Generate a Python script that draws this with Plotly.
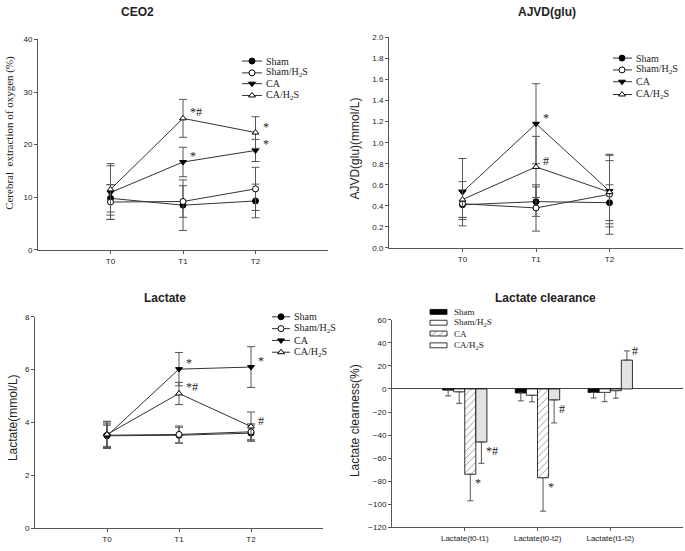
import plotly.graph_objects as go

W, H = 685, 551

# ---------------- data ----------------
time_points = ["T0", "T1", "T2"]
group_names = ["Sham", "Sham/H<sub>2</sub>S", "CA", "CA/H<sub>2</sub>S"]

# CEO2 (%)
ceo2_sham = [9.8, 8.5, 9.3]
ceo2_sham_err = [2.6, 4.8, 3.2]
ceo2_shamh2s = [9.1, 9.2, 11.6]
ceo2_shamh2s_err = [3.3, 3.0, 4.1]
ceo2_ca = [10.9, 16.7, 18.9]
ceo2_ca_err = [5.1, 2.8, 2.1]
ceo2_cah2s = [11.5, 25.0, 22.3]
ceo2_cah2s_err = [4.9, 3.6, 3.0]
ceo2_marks = [(3, 1, "*#"), (3, 2, "*"), (2, 1, "*"), (2, 2, "*")]

# AJVD(glu) (mmol/L)
ajvd_sham = [0.41, 0.44, 0.43]
ajvd_sham_err = [0.14, 0.14, 0.17]
ajvd_shamh2s = [0.42, 0.38, 0.51]
ajvd_shamh2s_err = [0.13, 0.22, 0.38]
ajvd_ca = [0.53, 1.18, 0.54]
ajvd_ca_err = [0.32, 0.38, 0.34]
ajvd_cah2s = [0.46, 0.77, 0.53]
ajvd_cah2s_err = [0.17, 0.29, 0.30]
ajvd_marks = [(2, 1, "*"), (3, 1, "#")]

# Lactate (mmol/L)
lac_sham = [3.50, 3.52, 3.60]
lac_sham_err = [0.45, 0.30, 0.30]
lac_shamh2s = [3.52, 3.55, 3.65]
lac_shamh2s_err = [0.50, 0.32, 0.30]
lac_ca = [3.50, 6.02, 6.10]
lac_ca_err = [0.40, 0.63, 0.77]
lac_cah2s = [3.55, 5.10, 3.85]
lac_cah2s_err = [0.50, 0.42, 0.55]
lac_marks = [(2, 1, "*"), (2, 2, "*"), (3, 1, "*#"), (3, 2, "#")]

# Lactate clearance (%)
clear_cats = ["Lactate(t0-t1)", "Lactate(t0-t2)", "Lactate(t1-t2)"]
clr_sham = [-1.0, -3.5, -3.0]
clr_sham_err = [5.0, 6.8, 4.9]
clr_shamh2s = [-2.5, -5.5, -3.0]
clr_shamh2s_err = [10.0, 5.7, 8.0]
clr_ca = [-74.0, -77.0, -1.5]
clr_ca_err = [23.0, 29.0, 6.5]
clr_cah2s = [-46.0, -9.5, 25.0]
clr_cah2s_err = [18.5, 20.0, 8.0]
clr_marks = [(2, 0, "*"), (3, 0, "*#"), (2, 1, "*"), (3, 1, "#"), (3, 2, "#")]

# ---------------- styles ----------------
SANS = "Liberation Sans, Arial, sans-serif"
SERIF = "Liberation Serif, Times New Roman, serif"
AX = "#555555"
TXT = "#222222"
marker_styles = [
    dict(symbol="circle", color="black"),
    dict(symbol="circle", color="white"),
    dict(symbol="triangle-down", color="black"),
    dict(symbol="triangle-up", color="white"),
]
bar_styles = [
    dict(color="black"),
    dict(color="white"),
    dict(color="white", pattern=dict(shape="/", fgcolor="black", bgcolor="white", size=5, solidity=0.15)),
    dict(color="#e2e2e2"),
]

fig = go.Figure()


def px_x(p):
    return p / W


def px_y(p):
    return 1 - p / H


def base_axis(**kw):
    d = dict(showline=True, linecolor=AX, linewidth=1, ticks="outside", ticklen=3,
             tickcolor=AX, tickwidth=1, showgrid=False, zeroline=False,
             tickfont=dict(family=SANS, size=8, color=TXT), fixedrange=True)
    d.update(kw)
    return d


def line_panel(idx, series, errs, marks, xdom, ydom, yrange, dtick, tickformat=None):
    xa = "x" if idx == 1 else f"x{idx}"
    ya = "y" if idx == 1 else f"y{idx}"
    for g, (vals, err) in enumerate(zip(series, errs)):
        st = marker_styles[g]
        fig.add_trace(go.Scatter(
            x=time_points, y=vals, mode="lines+markers", xaxis=xa, yaxis=ya,
            showlegend=False, name=group_names[g],
            line=dict(color="#333333", width=1),
            marker=dict(symbol=st["symbol"], color=st["color"], size=6,
                        line=dict(color="black", width=1)),
            error_y=dict(type="data", array=err, visible=True, color=AX,
                         thickness=1, width=4),
        ))
    for g, t, txt in marks:
        fig.add_annotation(x=time_points[t], y=series[g][t], xref=xa, yref=ya,
                           text=txt, showarrow=False, xanchor="left", yanchor="middle",
                           xshift=5, yshift=6, font=dict(family=SERIF, size=12, color=TXT))
    key = "" if idx == 1 else str(idx)
    fig.layout["xaxis" + key] = base_axis(domain=[px_x(xdom[0]), px_x(xdom[1])], anchor=ya,
                                          type="category", categoryarray=time_points,
                                          range=[-1, 3])
    yk = base_axis(domain=[px_y(ydom[1]), px_y(ydom[0])], anchor=xa, range=yrange, dtick=dtick)
    if tickformat:
        yk["tickformat"] = tickformat
    fig.layout["yaxis" + key] = yk


line_panel(1,
           [ceo2_sham, ceo2_shamh2s, ceo2_ca, ceo2_cah2s],
           [ceo2_sham_err, ceo2_shamh2s_err, ceo2_ca_err, ceo2_cah2s_err],
           ceo2_marks, (38, 328), (36, 250), [0, 40], 10)
line_panel(2,
           [ajvd_sham, ajvd_shamh2s, ajvd_ca, ajvd_cah2s],
           [ajvd_sham_err, ajvd_shamh2s_err, ajvd_ca_err, ajvd_cah2s_err],
           ajvd_marks, (389, 683), (34, 248), [0, 2], 0.2, ".1f")
line_panel(3,
           [lac_sham, lac_shamh2s, lac_ca, lac_cah2s],
           [lac_sham_err, lac_shamh2s_err, lac_ca_err, lac_cah2s_err],
           lac_marks, (35, 323), (318, 533), [0, 8], 2)

# ---------------- bar panel ----------------
BARGAP = 0.39
clr_series = [clr_sham, clr_shamh2s, clr_ca, clr_cah2s]
clr_errs = [clr_sham_err, clr_shamh2s_err, clr_ca_err, clr_cah2s_err]
for g, (vals, err) in enumerate(zip(clr_series, clr_errs)):
    plus = [e if v > 0 else 0 for v, e in zip(vals, err)]
    minus = [e if v <= 0 else 0 for v, e in zip(vals, err)]
    fig.add_trace(go.Bar(
        x=clear_cats, y=vals, xaxis="x4", yaxis="y4", showlegend=False,
        name=group_names[g],
        marker=dict(line=dict(color="black", width=0.8), **bar_styles[g]),
        error_y=dict(type="data", symmetric=False, array=plus, arrayminus=minus,
                     visible=True, color=AX, thickness=1, width=3),
    ))
bw = (1 - BARGAP) / 4
for g, c, txt in clr_marks:
    v = clr_series[g][c]
    fig.add_annotation(x=c + (g - 1.5) * bw, y=v + (8 if v > 0 else -8), xref="x4", yref="y4",
                       text=txt, showarrow=False, xanchor="left", yanchor="middle",
                       xshift=3, font=dict(family=SERIF, size=12, color=TXT))
fig.layout["xaxis4"] = base_axis(domain=[px_x(392), px_x(683)], anchor="y4", type="category",
                                 categoryarray=clear_cats, range=[-1, 3])
fig.layout["yaxis4"] = base_axis(domain=[px_y(532), px_y(321)], anchor="x4", range=[-120, 60],
                                 dtick=20, zeroline=True, zerolinecolor="#444444",
                                 zerolinewidth=1)

# ---------------- overlay axis (pixel space) for legends / titles ----------------
fig.layout["xaxis5"] = dict(domain=[0, 1], range=[0, W], visible=False, anchor="y5", fixedrange=True)
fig.layout["yaxis5"] = dict(domain=[0, 1], range=[H, 0], visible=False, anchor="x5", fixedrange=True)

line_legends = [
    dict(x0=242, x1=262, xm=252, xt=264, ys=[58, 70, 81, 93]),
    dict(x0=613, x1=632, xm=622, xt=634, ys=[55, 67, 79, 92]),
    dict(x0=272, x1=290, xm=281, xt=292, ys=[318, 330, 342, 354]),
]
for L in line_legends:
    for g in range(4):
        st = marker_styles[g]
        y = L["ys"][g]
        fig.add_trace(go.Scatter(x=[L["x0"], L["x1"]], y=[y, y], mode="lines", xaxis="x5",
                                 yaxis="y5", showlegend=False, hoverinfo="skip",
                                 line=dict(color="#333333", width=1)))
        fig.add_trace(go.Scatter(x=[L["xm"]], y=[y], mode="markers", xaxis="x5", yaxis="y5",
                                 showlegend=False, hoverinfo="skip",
                                 marker=dict(symbol=st["symbol"], color=st["color"], size=6,
                                             line=dict(color="black", width=1))))
        fig.add_annotation(x=L["xt"], y=y, xref="x5", yref="y5", text=group_names[g],
                           showarrow=False, xanchor="left", yanchor="middle",
                           font=dict(family=SERIF, size=10, color=TXT))

bar_leg_ys = [313, 324, 335, 347]
for g in range(4):
    y = bar_leg_ys[g]
    st = dict(bar_styles[g])
    if g == 3:
        st = dict(color="white")
    fig.add_trace(go.Bar(x=[430], y=[5], base=[y - 2.5], width=[17], offset=0,
                         xaxis="x5", yaxis="y5", showlegend=False, hoverinfo="skip",
                         marker=dict(line=dict(color="black", width=0.8), **st)))
    fig.add_annotation(x=452, y=y, xref="x5", yref="y5", text=group_names[g],
                       showarrow=False, xanchor="left", yanchor="middle",
                       font=dict(family=SERIF, size=9, color=TXT))

# panel titles
titles = [("CEO2", 137, 8), ("AJVD(glu)", 547, 8), ("Lactate", 165, 299),
          ("Lactate clearance", 545, 299)]
for txt, x, y in titles:
    fig.add_annotation(x=x, y=y, xref="x5", yref="y5", text="<b>" + txt + "</b>",
                       showarrow=False, xanchor="center", yanchor="middle",
                       font=dict(family=SANS, size=12, color=TXT))

# axis titles
ytitles = [("Cerebral  extraction of oxygen (%)", 10, 131, SERIF, 11),
           ("AJVD(glu)(mmol/L)", 355, 147, SANS, 12),
           ("Lactate(mmol/L)", 13, 421, SANS, 12),
           ("Lactate clearness(%)", 355, 424, SANS, 12)]
for txt, x, y, fam, sz in ytitles:
    fig.add_annotation(x=x, y=y, xref="x5", yref="y5", text=txt, textangle=-90,
                       showarrow=False, xanchor="center", yanchor="middle",
                       font=dict(family=fam, size=sz, color=TXT))

fig.update_layout(
    width=W, height=H, margin=dict(l=0, r=0, t=0, b=0),
    paper_bgcolor="white", plot_bgcolor="rgba(0,0,0,0)",
    barmode="group", bargap=BARGAP, bargroupgap=0,
    showlegend=False,
)

fig.write_html("out.html", config={"displayModeBar": False},
               post_script="document.body.style.margin='0';document.body.style.overflow='hidden';")
